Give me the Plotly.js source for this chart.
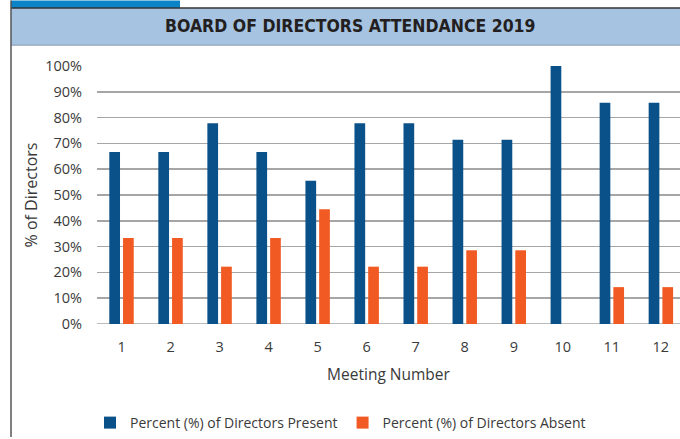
<!DOCTYPE html>
<html>
<head>
<meta charset="utf-8">
<script src="https://cdn.plot.ly/plotly-3.0.1.min.js"></script>
<style>
  html, body { margin: 0; padding: 0; background: #fff; }
  #chart { width: 680px; height: 439px; }
</style>
</head>
<body>
<div id="chart"></div>
<script>
// Data
const meetings = ['1', '2', '3', '4', '5', '6', '7', '8', '9', '10', '11', '12'];
const present = [66.67, 66.67, 77.78, 66.67, 55.56, 77.78, 77.78, 71.43, 71.43, 100, 85.71, 85.71];
const absent = [33.33, 33.33, 22.22, 33.33, 44.44, 22.22, 22.22, 28.57, 28.57, 0, 14.29, 14.29];
const yTicks = [0, 10, 20, 30, 40, 50, 60, 70, 80, 90, 100];

const W = 680, H = 439;
const mL = 97, mR = 0, mT = 66, mB = 113;
const plotW = W - mL - mR, plotH = H - mT - mB;

// pixel -> paper helpers for the decorations around the plot
const px = x => (x - mL) / plotW;
const py = y => (H - mB - y) / plotH;

const font = "'Open Sans', 'Noto Sans', sans-serif";
const txt = '#3a3a3a';

const presentTrace = {
    x: meetings,
    y: present,
    type: 'bar',
    name: 'Percent (%) of Directors Present',
    marker: { color: '#0b5189' },
    hoverinfo: 'y'
};

const absentTrace = {
    x: meetings,
    y: absent,
    type: 'bar',
    name: 'Percent (%) of Directors Absent',
    marker: { color: '#f15a22' },
    hoverinfo: 'y'
};

const layout = {
    width: W,
    height: H,
    margin: { l: mL, r: mR, t: mT, b: mB },
    paper_bgcolor: '#ffffff',
    plot_bgcolor: '#ffffff',
    font: { family: font, size: 14, color: txt },
    barmode: 'group',
    bargap: 0.44,
    bargroupgap: 0.22,
    showlegend: true,
    legend: {
        orientation: 'h',
        x: px(90), y: py(426), xanchor: 'left', yanchor: 'middle',
        font: { family: font, size: 14, color: txt },
        itemwidth: 30,
        tracegroupgap: 0
    },
    xaxis: {
        type: 'category',
        range: [-0.5, 11.39],
        showgrid: false,
        zeroline: false,
        showline: false,
        ticks: '',
        ticklabelstandoff: 12,
        tickfont: { family: font, size: 14.5, color: txt },
        title: { text: 'Meeting Number', font: { family: font, size: 15.5, color: txt }, standoff: 14 }
    },
    yaxis: {
        range: [0, 100],
        tickvals: yTicks,
        ticktext: yTicks.map(v => v + '%'),
        showgrid: true,
        gridcolor: '#a6a6a6',
        gridwidth: 1.5,
        zeroline: false,
        showline: false,
        ticks: '',
        ticklabelstandoff: 14,
        tickfont: { family: font, size: 14.5, color: txt },
        title: { text: '% of Directors', font: { family: font, size: 16, color: txt }, standoff: 3 }
    },
    shapes: [
        // base line at 0%
        { type: 'line', xref: 'paper', yref: 'y', x0: 0, x1: 1, y0: 0, y1: 0,
          line: { color: '#a6a6a6', width: 1.5 }, layer: 'below' },
        // dark blue tab at top left
        { type: 'rect', xref: 'paper', yref: 'paper', x0: px(11), x1: px(180), y0: py(0), y1: py(7.5),
          fillcolor: '#0a84c6', line: { width: 0 } },
        // header band
        { type: 'rect', xref: 'paper', yref: 'paper', x0: px(11), x1: px(681), y0: py(7.5), y1: py(45),
          fillcolor: '#a6c3e1', line: { width: 0 } },
        { type: 'line', xref: 'paper', yref: 'paper', x0: px(11), x1: px(681), y0: py(7.5), y1: py(7.5),
          line: { color: '#333333', width: 1.5 } },
        { type: 'line', xref: 'paper', yref: 'paper', x0: px(11), x1: px(681), y0: py(45), y1: py(45),
          line: { color: '#8a9bb0', width: 1 } },
        // left border
        { type: 'line', xref: 'paper', yref: 'paper', x0: px(11), x1: px(11), y0: py(0), y1: py(440),
          line: { color: '#555555', width: 1.5 } }
    ],
    annotations: [
        { xref: 'paper', yref: 'paper', x: px(350), y: py(26), xanchor: 'center', yanchor: 'middle',
          text: '<b>BOARD OF DIRECTORS ATTENDANCE 2019</b>', showarrow: false,
          font: { family: "'DejaVu Sans Condensed', 'Liberation Sans', Arial, sans-serif", size: 17.5, color: '#231f20' } }
    ]
};

Plotly.newPlot('chart', [presentTrace, absentTrace], layout, { displayModeBar: false, staticPlot: true });
</script>
</body>
</html>
